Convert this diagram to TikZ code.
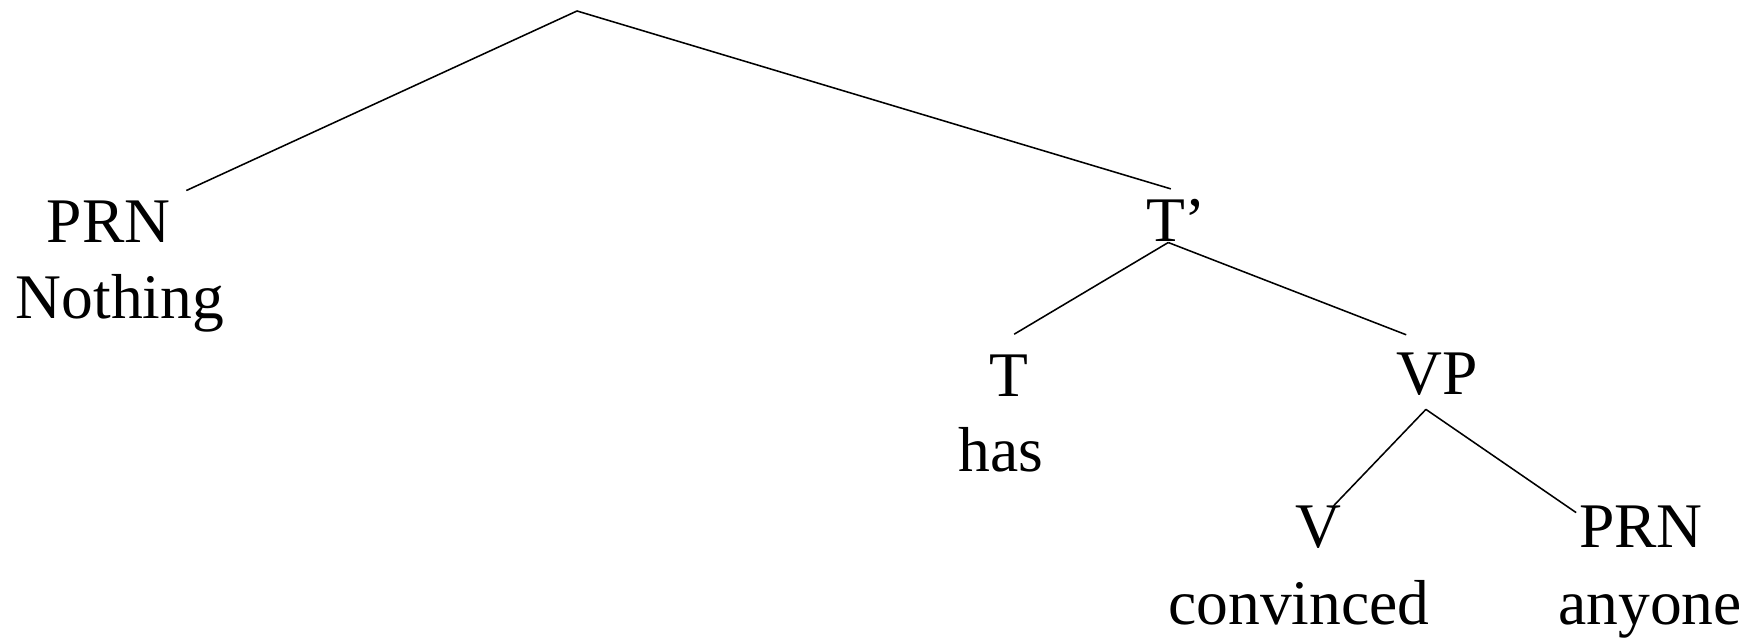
\documentclass[tikz,border=0pt]{standalone}
\usepackage{fontspec}
\setmainfont{Liberation Serif}
\usepackage{tikz}

\begin{document}
\begin{tikzpicture}[
    x=1.3608cm, y=1.3608cm,
    cat style/.style={inner sep=0pt, anchor=base, font=\fontsize{24.6}{29}\selectfont},
    word style/.style={inner sep=0pt, anchor=base, font=\fontsize{24.6}{29}\selectfont},
    branch style/.style={line width=0.6pt, black}
]

% Fix the size of the picture
\useasboundingbox (0,0) rectangle (17.56,6.42);

% The top of the tree
\coordinate (root) at (5.77,6.31);

% Draw the category nodes
\node[cat style] (prnA) at (1.085,3.99) {PRN};
\node[cat style] (tbar) at (11.76,4.00) {T'};
\node[cat style] (t) at (10.09,2.45) {T};
\node[cat style] (vp) at (14.37,2.47) {VP};
\node[cat style] (v) at (13.18,0.94) {V};
\node[cat style] (prnB) at (16.41,0.94) {PRN};

% Draw the words below them
\node[word style] (nothing) at (1.20,3.23) {Nothing};
\node[word style] (has) at (10.01,1.70) {has};
\node[word style] (convinced) at (12.99,0.17) {convinced};
\node[word style] (anyone) at (16.50,0.17) {anyone};

% Draw the branches
\draw[branch style] (root) -- ([xshift=6pt,yshift=4pt]prnA.north east);
\draw[branch style] (root) -- ([xshift=-2pt,yshift=4pt]tbar.north);
\draw[branch style] ([xshift=-3pt]tbar.south) -- ([xshift=2pt,yshift=8pt]t.north);
\draw[branch style] ([xshift=-3pt]tbar.south) -- ([xshift=4pt,yshift=7pt]vp.north west);
\draw[branch style] ([xshift=-4.3pt,yshift=-5pt]vp.south) -- ([xshift=6pt]v.north);
\draw[branch style] ([xshift=-4.3pt,yshift=-5pt]vp.south) -- ([xshift=-1pt,yshift=-2.6pt]prnB.north west);
\end{tikzpicture}
\end{document}
